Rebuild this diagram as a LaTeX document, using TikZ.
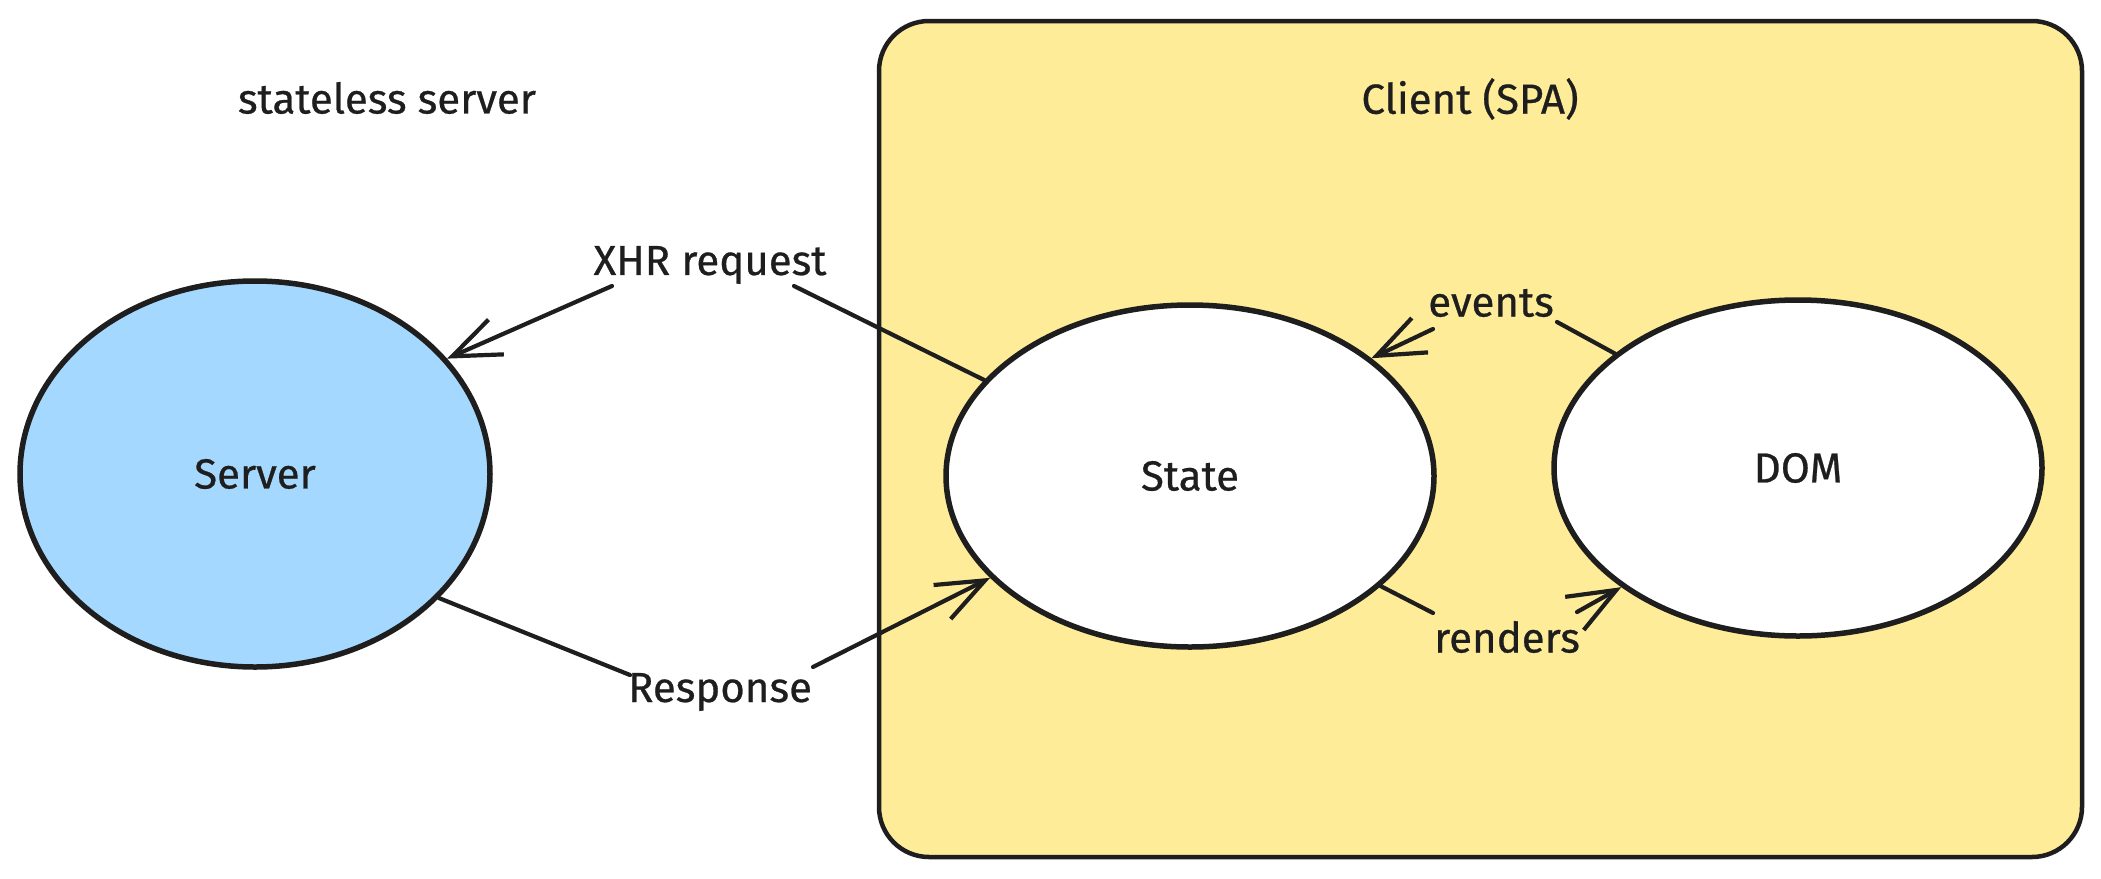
\documentclass[tikz,border=0pt]{standalone}
\usepackage{fontspec}
\setmainfont{Fira Sans}
\newfontface\handfont{Fira Sans}[FakeBold=0.6]
\usetikzlibrary{shapes.geometric,arrows.meta,calc}
\definecolor{ink}{HTML}{1E1E1E}
\definecolor{skyfill}{HTML}{A5D8FF}
\definecolor{sandfill}{HTML}{FFEC99}
\begin{document}
\begin{tikzpicture}[x=1pt,y=-1pt,
  blob/.style={ellipse,draw=ink,line width=5.5pt,inner sep=0pt,font=\handfont\fontsize{42}{50}\selectfont,text=ink},
  lbl/.style={font=\handfont\fontsize{42}{50}\selectfont,text=ink,inner sep=0pt},
  wire/.style={draw=ink,line width=4.2pt,line cap=round},
  tip/.style={wire,-{Straight Barb[length=48pt,width=38pt,line width=4.2pt]}}]
\useasboundingbox (0,0) rectangle (2101,878);
\fill[white] (0,0) rectangle (2101,878);
\node[draw=ink, fill=sandfill, line width=4.5pt, rounded corners=50pt, minimum width=1203pt, minimum height=836pt, inner sep=0pt] (client) at (1480.5,439) {};
\node[lbl] (clientlbl) at (1470,99) {Client (SPA)};
\node[lbl] (stateless) at (387,98) {stateless server};
\node[blob, fill=skyfill, minimum width=470pt, minimum height=386pt] (server) at (255,474) {Server};
\node[blob, fill=white, minimum width=488pt, minimum height=342pt] (state) at (1190,476) {State};
\node[blob, fill=white, minimum width=488pt, minimum height=336pt] (dom) at (1798,468) {DOM};
\node[lbl] (xhr) at (710,265) {XHR request};
\node[lbl] (resp) at (720,692) {Response};
\node[lbl] (events) at (1491,303) {events};
\node[lbl] (renders) at (1507,637) {renders};
\draw[wire] (state.155) -- ($(xhr)+(84,21)$);
\draw[tip] ($(xhr)+(-98,21)$) -- (server.31);
\draw[wire] (server.-34) -- ($(resp)+(-90,-17)$);
\draw[tip] ($(resp)+(93,-25)$) -- (state.207);
\draw[wire] (dom.148) -- ($(events)+(66,19)$);
\draw[tip] ($(events)+(-58,26)$) -- (state.33);
\draw[wire] (state.-30) -- ($(renders)+(-74,-24)$);
\draw[tip] ($(renders)+(70,-25)$) -- (dom.214);
\end{tikzpicture}
\end{document}
